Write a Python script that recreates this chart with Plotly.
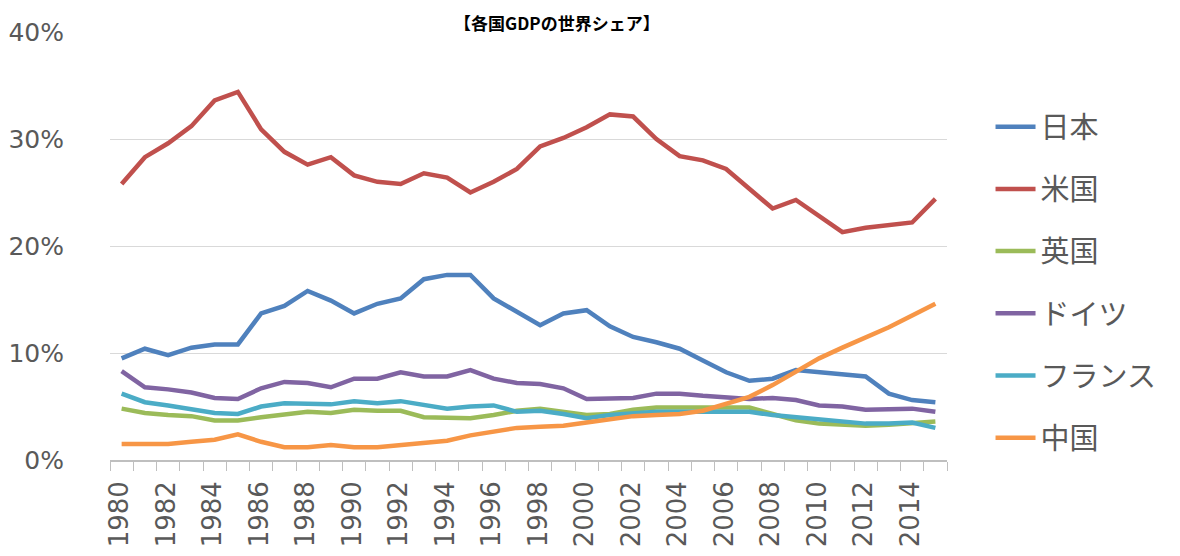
import plotly.graph_objects as go

years = list(range(1980, 2016))

japan = [9.5, 10.4, 9.8, 10.5, 10.8, 10.8, 13.7, 14.4, 15.8, 14.9, 13.7, 14.6, 15.1, 16.9, 17.3, 17.3,
         15.1, 13.9, 12.6, 13.7, 14.0, 12.5, 11.5, 11.0, 10.4, 9.3, 8.2, 7.4, 7.6, 8.4, 8.2, 8.0,
         7.8, 6.2, 5.6, 5.4]
usa = [25.8, 28.3, 29.6, 31.2, 33.6, 34.4, 30.9, 28.8, 27.6, 28.3, 26.6, 26.0, 25.8, 26.8, 26.4, 25.0,
       26.0, 27.2, 29.3, 30.1, 31.1, 32.3, 32.1, 30.0, 28.4, 28.0, 27.2, 25.3, 23.5, 24.3, 22.8, 21.3,
       21.7, 21.9, 22.2, 24.4]
uk = [4.8, 4.4, 4.2, 4.1, 3.7, 3.7, 4.0, 4.2, 4.5, 4.4, 4.7, 4.6, 4.6, 4.0, 3.9, 3.9,
      4.2, 4.6, 4.8, 4.5, 4.2, 4.3, 4.7, 4.9, 4.9, 4.9, 4.9, 4.9, 4.3, 3.7, 3.4, 3.3,
      3.2, 3.3, 3.5, 3.6]
germany = [8.3, 6.8, 6.6, 6.3, 5.8, 5.7, 6.7, 7.3, 7.2, 6.8, 7.6, 7.6, 8.2, 7.8, 7.8, 8.4,
           7.6, 7.2, 7.1, 6.7, 5.7, 5.7, 5.8, 6.2, 6.2, 6.0, 5.8, 5.7, 5.8, 5.6, 5.1, 5.0,
           4.7, 4.7, 4.8, 4.5]
france = [6.2, 5.4, 5.1, 4.8, 4.4, 4.3, 5.0, 5.3, 5.3, 5.2, 5.5, 5.3, 5.5, 5.1, 4.8, 5.0,
          5.1, 4.5, 4.6, 4.3, 3.9, 4.2, 4.4, 4.5, 4.5, 4.5, 4.5, 4.5, 4.2, 4.0, 3.7, 3.5,
          3.4, 3.4, 3.5, 3.0]
china = [1.5, 1.5, 1.5, 1.7, 1.9, 2.4, 1.7, 1.2, 1.2, 1.4, 1.2, 1.2, 1.4, 1.5, 1.8, 2.3,
         2.7, 3.0, 3.1, 3.2, 3.5, 3.8, 4.1, 4.2, 4.3, 4.6, 5.2, 5.9, 7.0, 8.3, 9.5, 10.5,
         11.4, 12.4, 13.5, 14.6]

names = ["日本", "米国", "英国", "ドイツ", "フランス", "中国"]
series = [japan, usa, uk, germany, france, china]
colors = ["#4F81BD", "#C0504D", "#9BBB59", "#8064A2", "#4BACC6", "#F79646"]

title_text = "【各国GDPの世界シェア】"
y_ticks = [0, 10, 20, 30, 40]
y_labels = ["0%", "10%", "20%", "30%", "40%"]
x_ticks = list(range(1980, 2016, 2))

fig = go.Figure()
for name, vals, col in zip(names, series, colors):
    fig.add_trace(go.Scatter(
        x=years, y=vals, name=name, mode="lines", legendgroup=name,
        line=dict(color=col, width=4.5),
        hoverinfo="skip",
    ))

fig.update_layout(
    width=1172, height=548,
    margin=dict(l=102, r=233, t=24, b=96, autoexpand=False),
    paper_bgcolor="white", plot_bgcolor="white",
    font=dict(family="DejaVu Sans, Noto Sans CJK JP", color="#595959"),
    showlegend=True,
    legend=dict(
        x=1.052, xanchor="left", y=0.838, yanchor="top",
        font=dict(family="Noto Sans CJK JP", size=29, color="#595959"),
        tracegroupgap=21.5, itemwidth=40,
        bgcolor="rgba(0,0,0,0)",
    ),
    annotations=[dict(
        text=title_text, xref="paper", yref="paper",
        x=(557 - 110) / 837, y=1.0, yshift=24, xanchor="center", yanchor="top",
        showarrow=False,
        font=dict(family="Noto Sans CJK JP", size=17, color="black", weight="bold"),
    )],
)

fig.update_xaxes(
    range=[1979.5, 2015.5], automargin=False,
    tickmode="array", tickvals=x_ticks, ticktext=[str(v) for v in x_ticks],
    tickangle=-90, ticks="", ticklen=0, ticklabelshift=-2, ticklabelstandoff=9,
    tickfont=dict(size=26, color="#595959", family="DejaVu Sans"),
    showgrid=False, zeroline=False,
    showline=True, linecolor="#BFBFBF", linewidth=1.5,
    minor=dict(tickmode="linear", tick0=1979.5, dtick=1, ticks="outside",
               ticklen=9, tickcolor="#BFBFBF", tickwidth=1.2, showgrid=False),
)
fig.update_yaxes(
    range=[0, 40], automargin=False, tickmode="array", tickvals=y_ticks, ticktext=y_labels,
    tickfont=dict(size=25, color="#595959", family="DejaVu Sans"),
    showgrid=True, gridcolor="#D9D9D9", gridwidth=1.2,
    zeroline=False, showline=False, ticks="", ticklabelstandoff=45,
)

fig.write_html("out.html")
